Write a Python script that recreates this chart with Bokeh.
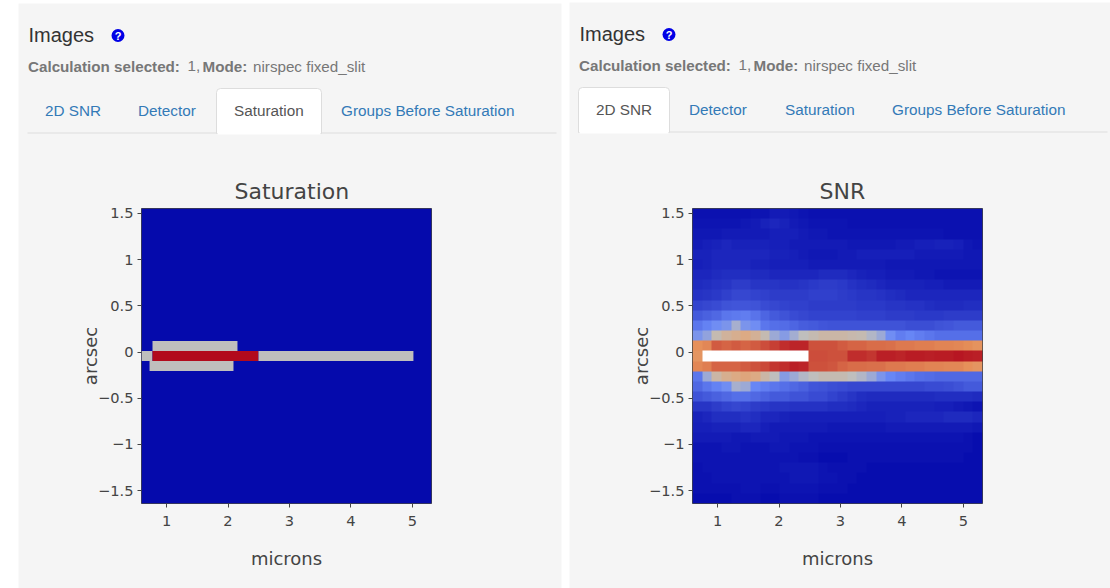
import numpy as np
from bokeh.embed import file_html
from bokeh.resources import INLINE
from bokeh.layouts import column, row
from bokeh.models import BoxAnnotation, ColumnDataSource, FixedTicker, Label, LinearColorMapper, Range1d
from bokeh.plotting import figure

# ---------- data ----------
X_TICKS = [1, 2, 3, 4, 5]
Y_TICKS = [-1.5, -1, -0.5, 0, 0.5, 1, 1.5]
Y_LABELS = {-1.5: "\u22121.5", -1: "\u22121", -0.5: "\u22120.5", 0: "0", 0.5: "0.5", 1: "1", 1.5: "1.5"}
TAB_NAMES = ["2D SNR", "Detector", "Saturation", "Groups Before Saturation"]

X_MIN, X_MAX = 0.593, 5.31
Y_MIN, Y_MAX = -1.64, 1.554

# Saturation map: background, then the three saturated rows
sat_left = [0.593, 0.772, 0.724, 0.593, 0.772, 2.496]
sat_right = [5.31, 2.154, 2.089, 0.772, 2.496, 5.016]
sat_top = [1.554, 0.119, -0.097, 0.011, 0.011, 0.011]
sat_bottom = [-1.64, 0.011, -0.205, -0.097, -0.097, -0.097]
sat_value = [0, 1, 1, 1, 2, 1]

N = None
# SNR map, percent of colour scale, top row first; None = saturated (white)
snr_rows = [
    [2, 2, 2, 2, 2, 2, 3, 3, 5, 5, 4, 3, 2, 2, 2, 2, 2, 2, 2, 2, 2, 2, 2, 2, 2, 2, 2, 2, 2, 2],
    [3, 3, 3, 3, 3, 4, 5, 7, 8, 7, 5, 4, 3, 3, 3, 3, 2, 2, 2, 2, 2, 2, 2, 2, 2, 2, 2, 2, 2, 2],
    [4, 4, 4, 5, 5, 5, 5, 5, 6, 6, 6, 5, 4, 4, 3, 3, 3, 3, 3, 3, 3, 3, 3, 3, 3, 3, 2, 2, 2, 2],
    [5, 6, 7, 8, 7, 7, 7, 7, 6, 6, 5, 5, 5, 5, 5, 5, 4, 4, 4, 4, 4, 5, 5, 6, 6, 7, 7, 6, 4, 3],
    [7, 7, 8, 8, 8, 8, 8, 8, 7, 7, 6, 5, 4, 4, 4, 5, 5, 6, 6, 6, 6, 6, 6, 5, 5, 5, 5, 5, 4, 4],
    [6, 7, 8, 8, 8, 8, 7, 7, 6, 6, 6, 6, 5, 5, 5, 5, 5, 5, 5, 5, 4, 4, 4, 4, 4, 4, 4, 4, 4, 4],
    [8, 8, 9, 10, 10, 10, 9, 9, 8, 8, 8, 8, 8, 9, 9, 9, 8, 7, 6, 6, 5, 5, 5, 4, 4, 3, 3, 3, 3, 3],
    [9, 10, 11, 12, 14, 14, 12, 12, 12, 11, 11, 12, 13, 14, 14, 13, 11, 10, 9, 8, 7, 7, 7, 7, 6, 6, 5, 5, 5, 5],
    [11, 12, 13, 15, 17, 17, 16, 15, 14, 14, 14, 14, 15, 15, 15, 14, 13, 12, 12, 11, 10, 9, 8, 8, 8, 8, 8, 8, 8, 8],
    [16, 17, 18, 20, 21, 21, 20, 18, 17, 16, 15, 15, 14, 14, 14, 14, 14, 13, 13, 13, 12, 12, 11, 11, 10, 9, 9, 9, 10, 10],
    [22, 24, 26, 30, 31, 32, 29, 25, 22, 20, 18, 17, 16, 16, 16, 16, 16, 15, 15, 15, 14, 14, 14, 13, 13, 13, 14, 14, 14, 14],
    [30, 33, 36, 38, 46, 38, 36, 30, 28, 27, 25, 23, 22, 21, 20, 20, 20, 20, 20, 20, 20, 20, 19, 19, 19, 20, 21, 22, 22, 22],
    [38, 42, 52, 56, 58, 60, 57, 52, 44, 40, 45, 50, 52, 54, 54, 54, 53, 52, 48, 44, 36, 32, 34, 32, 30, 28, 28, 28, 28, 28],
    [70, 72, 82, 80, 82, 80, 82, 85, 88, 92, 94, 94, 84, 84, 84, 82, 80, 80, 78, 78, 77, 75, 75, 74, 74, 73, 73, 72, 71, 69],
    [68, N, N, N, N, N, N, N, N, N, N, N, 85, 85, 84, 84, 92, 92, 90, 95, 95, 94, 96, 96, 95, 96, 96, 97, 96, 95],
    [72, 74, 80, 80, 80, 82, 84, 86, 90, 92, 95, 94, 84, 84, 83, 80, 78, 78, 77, 77, 75, 75, 74, 74, 73, 73, 72, 72, 70, 68],
    [30, 44, 54, 58, 60, 62, 60, 54, 50, 40, 44, 48, 50, 52, 52, 52, 50, 48, 44, 38, 34, 32, 30, 28, 27, 26, 26, 26, 26, 26],
    [26, 30, 33, 36, 46, 44, 34, 32, 30, 28, 26, 24, 21, 20, 19, 18, 17, 17, 17, 17, 17, 17, 17, 17, 18, 18, 19, 20, 22, 22],
    [20, 22, 24, 26, 28, 28, 26, 24, 22, 22, 20, 20, 18, 18, 16, 14, 12, 10, 9, 9, 9, 9, 9, 9, 9, 10, 10, 10, 10, 9],
    [12, 12, 14, 16, 17, 16, 14, 13, 12, 12, 11, 11, 11, 11, 10, 10, 9, 8, 7, 7, 7, 7, 7, 7, 7, 6, 6, 5, 4, 3],
    [7, 8, 10, 10, 10, 11, 10, 8, 8, 7, 6, 6, 6, 6, 6, 6, 6, 6, 6, 6, 7, 7, 8, 8, 8, 8, 9, 9, 9, 8],
    [6, 6, 7, 7, 7, 8, 8, 6, 5, 5, 5, 5, 5, 5, 4, 4, 4, 4, 4, 4, 5, 5, 5, 5, 5, 5, 5, 5, 5, 4],
    [5, 5, 5, 5, 4, 4, 5, 5, 5, 4, 4, 4, 3, 3, 3, 3, 3, 3, 3, 3, 3, 3, 3, 3, 3, 3, 3, 3, 2, 1],
    [3, 3, 3, 4, 4, 3, 3, 3, 4, 4, 3, 3, 3, 2, 2, 2, 2, 2, 2, 2, 2, 2, 2, 2, 2, 2, 2, 2, 2, 1],
    [3, 3, 3, 3, 3, 3, 3, 3, 3, 3, 3, 2, 2, 1, 1, 1, 2, 2, 2, 2, 2, 2, 2, 2, 2, 2, 2, 2, 1, 1],
    [2, 3, 3, 3, 3, 3, 3, 3, 3, 4, 4, 4, 4, 3, 2, 2, 2, 2, 1, 1, 1, 1, 1, 1, 1, 1, 1, 1, 1, 1],
    [2, 2, 3, 3, 3, 3, 3, 3, 3, 3, 4, 4, 4, 3, 3, 2, 2, 1, 1, 1, 1, 1, 1, 1, 1, 1, 1, 1, 1, 1],
    [2, 2, 2, 2, 2, 3, 3, 2, 2, 3, 3, 3, 3, 2, 2, 2, 1, 1, 1, 1, 1, 1, 1, 1, 1, 1, 1, 1, 1, 1],
    [1, 1, 1, 1, 2, 2, 2, 1, 1, 2, 2, 2, 2, 1, 1, 1, 1, 1, 1, 1, 1, 1, 1, 1, 1, 1, 1, 1, 1, 1],
]

# ---------- style ----------
STOPS = [0, 0.35, 0.5, 0.6, 0.7, 1]
STOP_RGB = [(5, 10, 172), (106, 137, 247), (190, 190, 190), (220, 170, 132), (230, 145, 90), (178, 10, 28)]
t = np.linspace(0, 1, 256)
rgb = np.array([np.interp(t, STOPS, [c[i] for c in STOP_RGB]) for i in range(3)]).T.round().astype(int)
PALETTE = ["#%02x%02x%02x" % tuple(c) for c in rgb]

UI = "Liberation Sans"
PLOT = "DejaVu Sans"
PANEL = "#f5f5f5"
INK = "#444444"
W, H = 1110, 588

# ---------- page behind the two charts (units are page pixels) ----------
page = figure(width=W, height=H, output_backend="svg", toolbar_location=None,
              x_range=Range1d(0, W), y_range=Range1d(H, 0), x_axis_location=None, y_axis_location=None,
              min_border=0, styles={"position": "absolute", "left": "0", "top": "0", "z-index": "0"})
page.grid.visible = False
page.outline_line_color = None
page.background_fill_color = "white"
page.border_fill_color = "white"


def text(x, y, s, size, color, style="normal", align="left"):
    page.add_layout(Label(x=x, y=y, text=s, text_font=UI, text_font_size=f"{size}px", text_color=color,
                          text_font_style=style, text_align=align, text_baseline="middle"))


def box(l, r, t, b, fill, line=None, radius=0):
    page.add_layout(BoxAnnotation(left=l, right=r, top=t, bottom=b, fill_color=fill, fill_alpha=1,
                                  line_color=line, line_alpha=1 if line else 0, line_width=1,
                                  border_radius=radius, level="underlay", editable=False))


def furniture(ox, oy, panel_left, panel_right, panel_top, active):
    box(panel_left, panel_right, panel_top, H, PANEL)
    box(ox + 27, ox + 556, oy + 132, oy + 133, "#dddddd")
    tab_l, tab_r = (216, 321) if active == 2 else (27, 118)
    box(ox + tab_l, ox + tab_r, oy + 88, oy + 133, "white", "#dddddd", radius=(4, 4, 0, 0))
    box(ox + tab_l + 1, ox + tab_r - 1, oy + 130, oy + 134, "white")
    text(ox + 28, oy + 34, "Images", 20, "#333333")
    box(ox + 111, ox + 124, oy + 28.5, oy + 41.5, "#0000e6", radius=7)
    text(ox + 117.5, oy + 35, "?", 11, "white", "bold", align="center")
    text(ox + 27.5, oy + 65.5, "Calculation selected:", 15.2, "#777777", "bold")
    text(ox + 187, oy + 65.5, "1,", 15.2, "#777777")
    text(ox + 202, oy + 65.5, "Mode:", 15.2, "#777777", "bold")
    text(ox + 252.5, oy + 65.5, "nirspec fixed_slit", 15.2, "#777777")
    for i, (name, tx) in enumerate(zip(TAB_NAMES, [44.5, 137.5, 233.5, 340.5])):
        text(ox + tx, oy + 109.5, name, 15.3, "#555555" if i == active else "#337ab7")


furniture(0, 0, 18, 561, 3, 2)
furniture(551, -1, 569, W, 2, 0)


# ---------- charts ----------
def chart(title, width, margins, title_offset):
    """margins: left, right, top, bottom space round the plot area."""
    ml, mr, mt, mb = margins
    p = figure(width=width, height=H, output_backend="svg", toolbar_location=None,
               x_range=Range1d(X_MIN, X_MAX), y_range=Range1d(Y_MIN, Y_MAX),
               min_border_left=ml, min_border_right=mr, min_border_top=mt, min_border_bottom=mb,
               x_axis_label="microns", y_axis_label="arcsec", title=title,
               styles={"position": "relative", "z-index": "1"})
    p.grid.visible = False
    p.border_fill_color = None
    p.background_fill_color = PALETTE[0]
    p.outline_line_color = INK
    p.outline_line_width = 1
    p.title.align = "left"
    p.title.offset = title_offset
    p.title.text_font = PLOT
    p.title.text_font_style = "normal"
    p.title.text_font_size = "22px"
    p.title.text_color = INK
    p.title.standoff = 10
    for ax in (p.xaxis[0], p.yaxis[0]):
        ax.axis_line_color = None
        ax.major_tick_line_color = INK
        ax.major_tick_out = 4
        ax.major_tick_in = 0
        ax.minor_tick_line_color = None
        ax.major_label_text_font = PLOT
        ax.major_label_text_font_size = "14.6px"
        ax.major_label_text_color = INK
        ax.axis_label_text_font = PLOT
        ax.axis_label_text_font_size = "18px"
        ax.axis_label_text_font_style = "normal"
        ax.axis_label_text_color = INK
    p.xaxis[0].major_label_standoff = 8
    p.yaxis[0].major_label_standoff = 4
    p.xaxis[0].ticker = FixedTicker(ticks=X_TICKS)
    p.yaxis[0].ticker = FixedTicker(ticks=Y_TICKS)
    p.yaxis[0].major_label_overrides = Y_LABELS
    p.xaxis[0].axis_label_standoff = 19
    p.yaxis[0].axis_label_standoff = -6
    return p


mapper_sat = LinearColorMapper(palette=PALETTE, low=0, high=2)
mapper_snr = LinearColorMapper(palette=PALETTE, low=0, high=100, nan_color="white")

left = chart("Saturation", 560, (141, 129, 208, 84), 93)
left.quad(left="l", right="r", top="t", bottom="b",
          source=ColumnDataSource(dict(l=sat_left, r=sat_right, t=sat_top, b=sat_bottom, v=sat_value)),
          fill_color={"field": "v", "transform": mapper_sat}, line_color=None)

right = chart("SNR", 550, (132, 128, 207, 85), 127)
grid = np.array([[np.nan if v is None else float(v) for v in r] for r in snr_rows[::-1]])
right.image(image=[grid], x=X_MIN, y=Y_MIN, dw=X_MAX - X_MIN, dh=Y_MAX - Y_MIN, color_mapper=mapper_snr)

html = file_html(column(page, row(left, right, spacing=0), spacing=0), INLINE)
open("out.html", "w").write(html)
